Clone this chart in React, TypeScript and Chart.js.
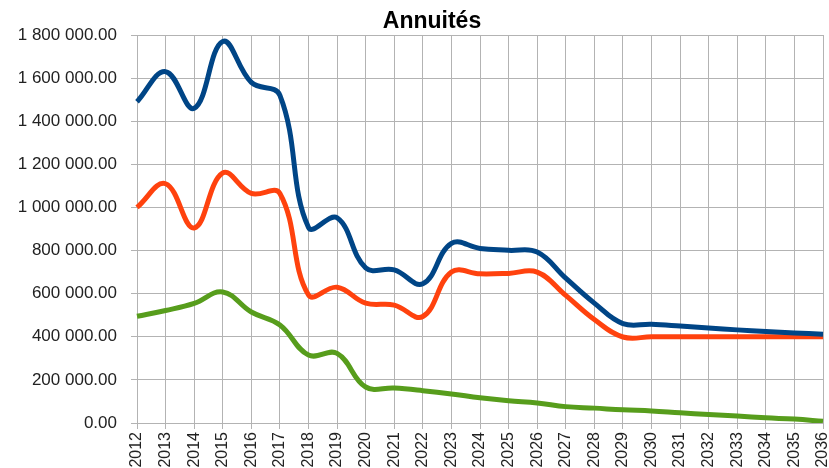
import React, { useEffect, useRef } from "react";
import { Chart, registerables } from "chart.js";

Chart.register(...registerables);

const years = [
  "2012", "2013", "2014", "2015", "2016", "2017", "2018", "2019", "2020", "2021",
  "2022", "2023", "2024", "2025", "2026", "2027", "2028", "2029", "2030", "2031",
  "2032", "2033", "2034", "2035", "2036",
];

const totalAnnuity = [
  1490000, 1630000, 1460000, 1770000, 1580000, 1520000, 907000, 952000, 720000, 710000,
  646000, 833000, 810000, 801000, 793000, 672000, 556000, 461000, 458000, 450000,
  441000, 432000, 425000, 418000, 412000,
];

const interest = [
  1000000, 1110000, 905000, 1160000, 1065000, 1065000, 594000, 630000, 556000, 547000,
  494000, 700000, 692000, 694000, 700000, 592000, 480000, 399000, 400000, 400000,
  400000, 400000, 400000, 400000, 400000,
];

const principal = [
  495000, 522000, 555000, 608000, 515000, 455000, 315000, 323000, 167000, 162000,
  150000, 135000, 117000, 103000, 93000, 76000, 69000, 61000, 56000, 47000,
  39000, 32000, 24000, 18000, 8000,
];

const chartTitle = "Annuités";
const yTickMax = 1800000;
const yTickStep = 200000;

function formatNumber(v: number): string {
  const [i, d] = Math.abs(v).toFixed(2).split(".");
  return (v < 0 ? "-" : "") + i.replace(/\B(?=(\d{3})+(?!\d))/g, " ") + "." + d;
}

const FONT = "'Liberation Sans', Arial, sans-serif";

const titlePlugin = {
  id: "offsetTitle",
  afterDraw(chart: any) {
    const ctx = chart.ctx;
    ctx.save();
    ctx.fillStyle = "#000";
    ctx.font = `bold 23px ${FONT}`;
    ctx.textAlign = "center";
    ctx.textBaseline = "alphabetic";
    ctx.fillText(chartTitle, 432, 28);
    ctx.restore();
  },
};

export default function App() {
  const canvasRef = useRef<HTMLCanvasElement | null>(null);

  useEffect(() => {
    if (!canvasRef.current) return;
    const chart = new Chart(canvasRef.current, {
      type: "line",
      data: {
        labels: years,
        datasets: [
          {
            label: "Annuité",
            data: totalAnnuity,
            borderColor: "#004586",
            borderWidth: 5,
            pointRadius: 0,
            tension: 0.4,
            fill: false,
          },
          {
            label: "Intérêts",
            data: interest,
            borderColor: "#ff420e",
            borderWidth: 5,
            pointRadius: 0,
            tension: 0.4,
            fill: false,
          },
          {
            label: "Capital",
            data: principal,
            borderColor: "#579d1c",
            borderWidth: 5,
            pointRadius: 0,
            tension: 0.4,
            fill: false,
          },
        ],
      },
      options: {
        animation: false,
        responsive: false,
        maintainAspectRatio: false,
        layout: { padding: { left: 0, right: 6, top: 35, bottom: 0 } },
        plugins: {
          legend: { display: false },
          tooltip: { enabled: false },
          title: { display: false },
        },
        scales: {
          x: {
            offset: false,
            grid: { color: "#b3b3b3", tickLength: 6, lineWidth: 1 },
            border: { color: "#b3b3b3" },
            ticks: {
              autoSkip: false,
              maxRotation: 90,
              minRotation: 90,
              padding: 3,
              color: "#222",
              font: { family: FONT, size: 16 },
            },
            afterFit: (scale: any) => {
              scale.height = 45;
              scale.paddingLeft = 0;
              scale.paddingRight = 0;
            },
          },
          y: {
            min: 0,
            max: yTickMax,
            grid: { color: "#b3b3b3", tickLength: 6, lineWidth: 1 },
            border: { color: "#b3b3b3" },
            ticks: {
              stepSize: yTickStep,
              padding: 14,
              color: "#222",
              font: { family: FONT, size: 17 },
              callback: (v: any) => formatNumber(Number(v)),
            },
            afterFit: (scale: any) => {
              scale.width = 137;
              scale.paddingTop = 0;
              scale.paddingBottom = 0;
            },
          },
        },
      },
      plugins: [titlePlugin],
    });
    return () => chart.destroy();
  }, []);

  return (
    <div style={{ position: "absolute", left: 0, top: 0, width: 829, height: 468, overflow: "hidden", background: "#fff" }}>
      <canvas ref={canvasRef} width={829} height={468} style={{ display: "block", width: 829, height: 468 }} />
    </div>
  );
}
